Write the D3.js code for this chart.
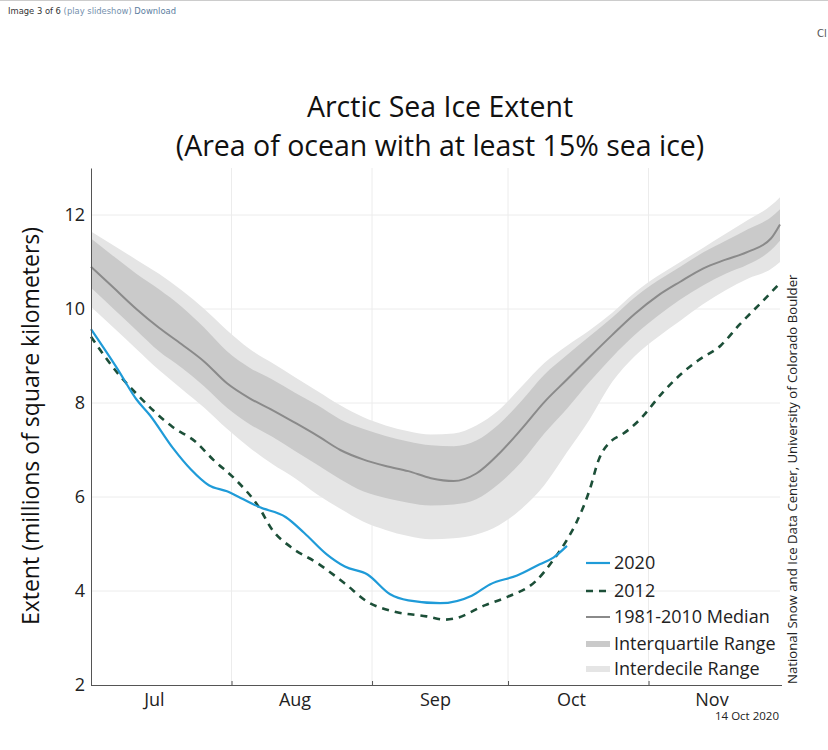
<!DOCTYPE html>
<html><head><meta charset="utf-8">
<script src="https://cdn.jsdelivr.net/npm/d3@7"></script>
<style>body{margin:0;background:#fff;} svg{display:block}</style>
</head><body>
<svg id="c" width="828" height="750"></svg>
<script>
// ---------- data ----------
const monthLabels = ["Jul", "Aug", "Sep", "Oct", "Nov"];
const monthTickDays = [31, 62, 92, 123];          // days after Jul 1 (Aug 1, Sep 1, Oct 1, Nov 1)
const monthLabelDays = [14, 45, 76, 106, 137];   // mid-month label positions
const yTicks = [2, 4, 6, 8, 10, 12];

// climatology (days after Jul 1)
const climDays = [0,5,10,15,20,25,30,35,40,45,50,55,60,65,70,75,80,85,90,95,100,105,110,115,120,125,130,135,140,145,150,152];
const median   = [10.90,10.45,10.00,9.60,9.25,8.88,8.42,8.10,7.85,7.58,7.30,7.00,6.80,6.66,6.55,6.40,6.34,6.50,6.92,7.45,8.02,8.50,8.98,9.45,9.90,10.28,10.58,10.86,11.05,11.22,11.50,11.80];
const iqrLow   = [10.45,10.00,9.55,9.10,8.75,8.35,7.90,7.55,7.28,6.98,6.68,6.38,6.12,5.98,5.88,5.82,5.84,5.95,6.28,6.75,7.35,7.88,8.45,8.98,9.45,9.85,10.20,10.50,10.75,10.95,11.25,11.45];
const iqrHigh  = [11.50,11.12,10.75,10.42,10.05,9.60,9.10,8.75,8.50,8.22,7.95,7.65,7.45,7.30,7.18,7.10,7.08,7.20,7.55,8.05,8.60,9.02,9.42,9.82,10.25,10.60,10.90,11.20,11.45,11.70,11.95,12.12];
const idrLow   = [10.05,9.60,9.15,8.70,8.30,7.90,7.45,7.05,6.70,6.40,6.05,5.75,5.48,5.30,5.17,5.10,5.12,5.20,5.40,5.75,6.25,6.95,7.65,8.45,9.00,9.40,9.75,10.10,10.40,10.65,10.85,11.00];
const idrHigh  = [11.65,11.35,11.05,10.75,10.40,10.00,9.55,9.15,8.85,8.55,8.25,7.95,7.70,7.52,7.40,7.33,7.35,7.52,7.85,8.35,8.85,9.22,9.55,9.92,10.35,10.70,11.00,11.30,11.60,11.90,12.20,12.38];

// 2020
const days2020 = [0,6,10,13,18,22,26,30,33,37,43,47,52,56,61,66,70,77,84,88,94,99,102,105];
const ext2020  = [9.57,8.70,8.08,7.74,7.05,6.59,6.25,6.12,5.98,5.79,5.57,5.24,4.78,4.52,4.35,3.93,3.80,3.74,3.90,4.14,4.33,4.57,4.71,4.96];

// 2012
const days2012 = [0,6,10,18,23,27,32,37,40,44,50,56,61,67,74,78,80,87,92,98,102,105,107,110,112,115,117,121,126,130,134,139,143,148,152];
const ext2012  = [9.41,8.62,8.20,7.49,7.18,6.79,6.36,5.79,5.30,4.94,4.59,4.16,3.77,3.56,3.46,3.39,3.41,3.70,3.88,4.20,4.66,5.09,5.44,6.15,6.79,7.21,7.32,7.64,8.21,8.60,8.91,9.23,9.66,10.15,10.55];

const legendLabels = ["2020", "2012", "1981-2010 Median", "Interquartile Range", "Interdecile Range"];

// ---------- drawing ----------
const svg = d3.select("#c");
const FONT = "'Open Sans', 'Noto Sans', sans-serif";
const start = new Date(Date.UTC(2020, 6, 1));
const dayToDate = d => d3.utcDay.offset(start, d);

const x = d3.scaleUtc().domain([start, new Date(Date.UTC(2020, 10, 30))]).range([91, 780]);
const y = d3.scaleLinear().domain([2, 13]).range([685, 168]);

// header strip
svg.append("line").attr("x1", 0).attr("x2", 828).attr("y1", 0.5).attr("y2", 0.5).attr("stroke", "#ccc");
const hdr = svg.append("text").attr("x", 8).attr("y", 14).attr("font-family", "'DejaVu Sans', Verdana, sans-serif").attr("font-size", 8.4);
hdr.append("tspan").attr("fill", "#333").text("Image 3 of 6 ");
hdr.append("tspan").attr("fill", "#7490ad").text("(play slideshow) ");
hdr.append("tspan").attr("fill", "#5b7da0").text("Download");
svg.append("text").attr("x", 817).attr("y", 37).attr("font-family", "'DejaVu Sans', Verdana, sans-serif").attr("font-size", 10).attr("fill", "#555").text("Cl");

// grid
svg.append("g").selectAll("line").data(yTicks.filter(v => v > 2)).join("line")
  .attr("x1", 91).attr("x2", 780).attr("y1", d => y(d)).attr("y2", d => y(d))
  .attr("stroke", "#ececec").attr("stroke-width", 1);
svg.append("g").selectAll("line").data(monthTickDays).join("line")
  .attr("x1", d => x(dayToDate(d))).attr("x2", d => x(dayToDate(d)))
  .attr("y1", 168).attr("y2", 685)
  .attr("stroke", "#ececec").attr("stroke-width", 1);

// bands
const idx = d3.range(climDays.length);
const band = (lo, hi) => d3.area().curve(d3.curveMonotoneX)
  .x(i => x(dayToDate(climDays[i]))).y0(i => y(lo[i])).y1(i => y(hi[i]));
svg.append("path").datum(idx).attr("d", band(idrLow, idrHigh)).attr("fill", "#e5e5e5");
svg.append("path").datum(idx).attr("d", band(iqrLow, iqrHigh)).attr("fill", "#cacaca");

const lineOf = (days, vals) => d3.line().curve(d3.curveMonotoneX)
  .x(i => x(dayToDate(days[i]))).y(i => y(vals[i]))(d3.range(days.length));

svg.append("path").attr("d", lineOf(climDays, median)).attr("fill", "none")
  .attr("stroke", "#8a8a8a").attr("stroke-width", 2);
svg.append("path").attr("d", lineOf(days2012, ext2012)).attr("fill", "none")
  .attr("stroke", "#1c4f38").attr("stroke-width", 2.6).attr("stroke-dasharray", "7,6");
svg.append("path").attr("d", lineOf(days2020, ext2020)).attr("fill", "none")
  .attr("stroke", "#1f9bd8").attr("stroke-width", 2.2);

// axes
const xAxis = svg.append("g").attr("transform", "translate(0,685)")
  .call(d3.axisBottom(x).tickValues(monthTickDays.map(dayToDate)).tickSize(-4).tickFormat(""));
xAxis.select(".domain").attr("stroke", "#555").attr("d", "M91,0.5H782");
xAxis.selectAll(".tick line").attr("stroke", "#555");
svg.append("g").selectAll("text").data(monthLabels).join("text")
  .attr("x", (d, i) => x(dayToDate(monthLabelDays[i]))).attr("y", 706)
  .attr("text-anchor", "middle").attr("font-family", FONT).attr("font-size", 18).attr("fill", "#222")
  .text(d => d);

const yAxis = svg.append("g").attr("transform", "translate(91,0)")
  .call(d3.axisLeft(y).tickValues(yTicks).tickSize(0).tickPadding(6));
yAxis.select(".domain").attr("stroke", "#555");
yAxis.selectAll(".tick text").attr("font-family", FONT).attr("font-size", 18).attr("fill", "#222");

// titles
svg.append("text").attr("x", 440).attr("y", 117).attr("text-anchor", "middle")
  .attr("font-family", FONT).attr("font-size", 28.5).attr("fill", "#111").text("Arctic Sea Ice Extent");
svg.append("text").attr("x", 440).attr("y", 156).attr("text-anchor", "middle")
  .attr("font-family", FONT).attr("font-size", 28.5).attr("fill", "#111").text("(Area of ocean with at least 15% sea ice)");
svg.append("text").attr("transform", "translate(39,426) rotate(-90)").attr("text-anchor", "middle")
  .attr("font-family", FONT).attr("font-size", 23).attr("fill", "#111").text("Extent (millions of square kilometers)");
svg.append("text").attr("transform", "translate(797,684) rotate(-90)").attr("text-anchor", "start")
  .attr("font-family", FONT).attr("font-size", 13.2).attr("fill", "#222")
  .text("National Snow and Ice Data Center, University of Colorado Boulder");
svg.append("text").attr("x", 779).attr("y", 720).attr("text-anchor", "end")
  .attr("font-family", FONT).attr("font-size", 11.5).attr("fill", "#222").text("14 Oct 2020");

// legend
const legY = [563, 591, 617, 644, 669];
const legG = svg.append("g");
const sw = [
  {stroke: "#1f9bd8", w: 2.2, dash: null},
  {stroke: "#1c4f38", w: 2.6, dash: "7,6"},
  {stroke: "#8a8a8a", w: 2, dash: null},
  {stroke: "#cacaca", w: 6, dash: null},
  {stroke: "#e5e5e5", w: 6, dash: null}
];
legendLabels.forEach((lab, i) => {
  legG.append("line").attr("x1", 586).attr("x2", 610).attr("y1", legY[i]).attr("y2", legY[i])
    .attr("stroke", sw[i].stroke).attr("stroke-width", sw[i].w).attr("stroke-dasharray", sw[i].dash);
  legG.append("text").attr("x", 614).attr("y", legY[i]).attr("dy", "0.35em")
    .attr("font-family", FONT).attr("font-size", 18).attr("fill", "#222").text(lab);
});
</script>
</body></html>
